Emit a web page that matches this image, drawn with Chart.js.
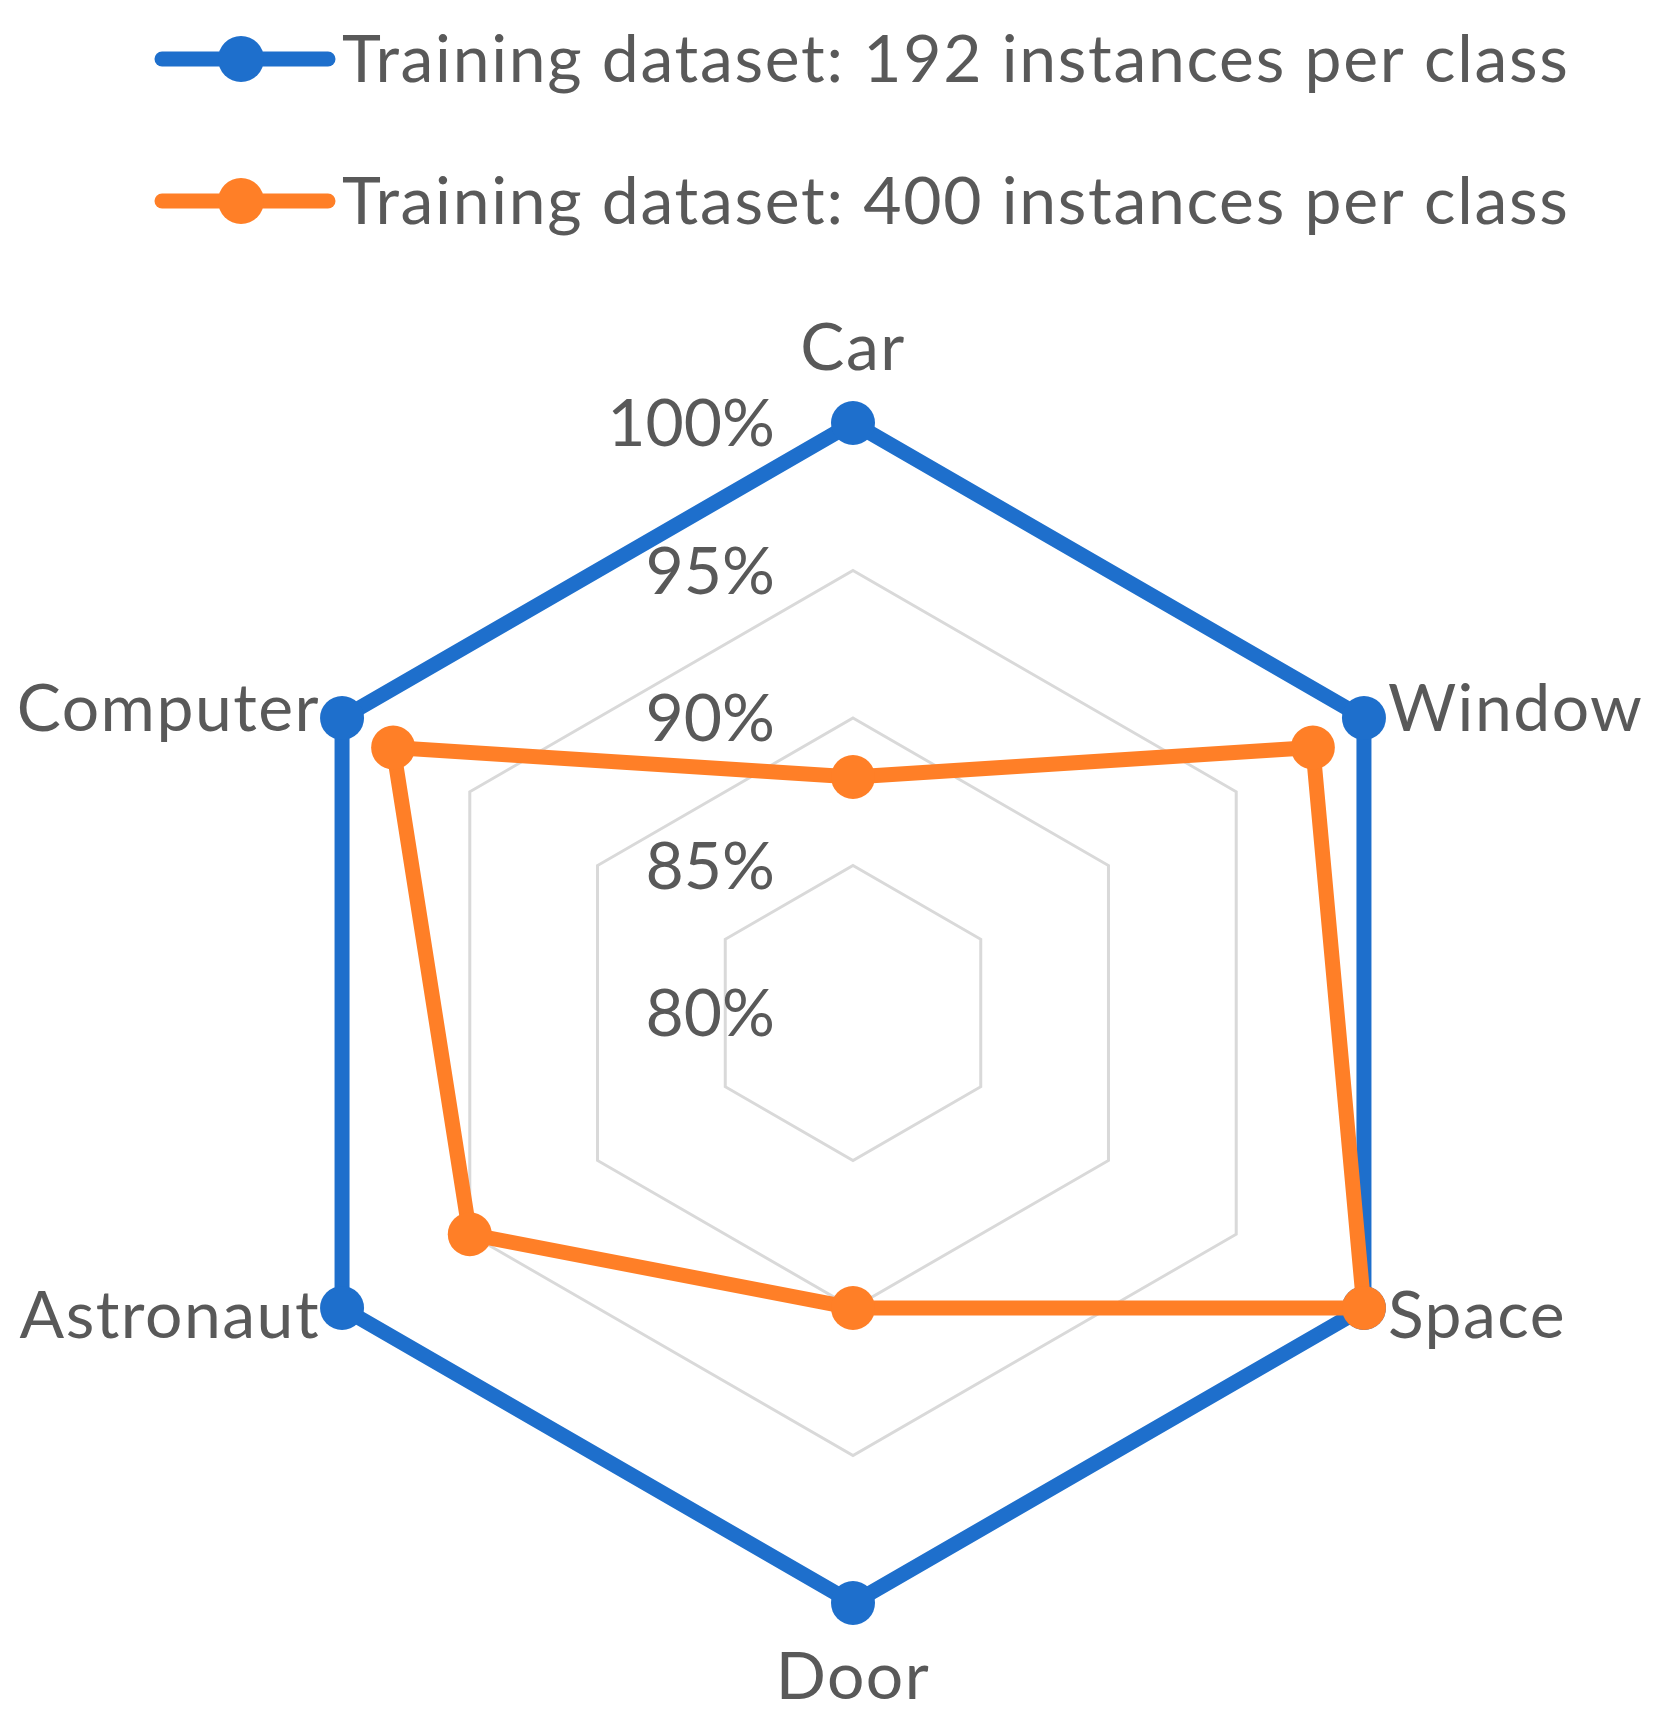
<!DOCTYPE html>
<html>
<head>
<meta charset="utf-8">
<script src="https://cdn.jsdelivr.net/npm/chart.js@4.4.0/dist/chart.umd.min.js"></script>
<style>
  html, body { margin: 0; padding: 0; background: #fff; }
  canvas { display: block; }
</style>
</head>
<body>
<canvas id="radar-chart" width="1677" height="1726"></canvas>
<script>
const categories = ['Car', 'Window', 'Space', 'Door', 'Astronaut', 'Computer'];
const seriesNames = ['Training dataset: 192 instances per class', 'Training dataset: 400 instances per class'];
const values192 = [100, 100, 100, 100, 100, 100];
const values400 = [88, 98, 100, 90, 95, 98];
const tickValues = [80, 85, 90, 95, 100];
const seriesColors = ['#1E6FCC', '#FF7F27'];

const FONT = 'Lato, "Open Sans", sans-serif';
const TEXT_COLOR = '#595959';

// labels drawn by hand so the radius stays where excel put it
const excelLabels = {
    id: 'excelLabels',
    afterDraw(chart) {
        const ctx = chart.ctx;
        const scale = chart.scales.r;
        ctx.save();
        ctx.fillStyle = TEXT_COLOR;

        // tick labels, left of the top spoke
        ctx.font = '66px ' + FONT;
        ctx.textAlign = 'right';
        ctx.textBaseline = 'middle';
        tickValues.forEach(v => {
            const p = scale.getPointPositionForValue(0, v);
            ctx.fillText(v + '%', p.x - 78, p.y + 2);
        });

        // category labels
        ctx.font = '66px ' + FONT;
        ctx.letterSpacing = '1.5px';
        ctx.textBaseline = 'alphabetic';
        categories.forEach((label, i) => {
            const p = scale.getPointPositionForValue(i, scale.max);
            const dx = p.x - scale.xCenter;
            const dy = p.y - scale.yCenter;
            if (Math.abs(dx) < 1) {
                ctx.textAlign = 'center';
                ctx.fillText(label, p.x, dy < 0 ? p.y - 53 : p.y + 96);
            } else {
                ctx.textAlign = dx > 0 ? 'left' : 'right';
                ctx.fillText(label, p.x + (dx > 0 ? 24 : -22), p.y + (dy < 0 ? 13 : 30));
            }
        });

        // legend: line with a dot, like excel
        ctx.font = '66px ' + FONT;
        ctx.letterSpacing = '1.7px';
        ctx.textAlign = 'left';
        seriesNames.forEach((name, i) => {
            const y = 59 + i * 142;
            ctx.strokeStyle = seriesColors[i];
            ctx.lineWidth = 15;
            ctx.lineCap = 'round';
            ctx.beginPath();
            ctx.moveTo(162, y);
            ctx.lineTo(328, y);
            ctx.stroke();
            ctx.fillStyle = seriesColors[i];
            ctx.beginPath();
            ctx.arc(241, y, 23, 0, Math.PI * 2);
            ctx.fill();
            ctx.fillStyle = TEXT_COLOR;
            ctx.fillText(name, 342, y + 23);
        });
        ctx.restore();
    }
};

const ctx = document.getElementById('radar-chart').getContext('2d');

new Chart(ctx, {
    type: 'radar',
    data: {
        labels: categories,
        datasets: [{
            label: seriesNames[0],
            data: values192,
            borderColor: seriesColors[0],
            backgroundColor: seriesColors[0],
            pointBackgroundColor: seriesColors[0],
            borderWidth: 15,
            pointRadius: 22,
            pointBorderWidth: 0,
            fill: false,
            order: 1
        }, {
            label: seriesNames[1],
            data: values400,
            borderColor: seriesColors[1],
            backgroundColor: seriesColors[1],
            pointBackgroundColor: seriesColors[1],
            borderWidth: 15,
            pointRadius: 22,
            pointBorderWidth: 0,
            fill: false,
            order: 0
        }]
    },
    options: {
        responsive: false,
        animation: false,
        layout: {
            padding: { left: 263, right: 234, top: 423, bottom: 123 }
        },
        scales: {
            r: {
                min: 80,
                max: 100,
                ticks: { stepSize: 5, display: false },
                pointLabels: { display: false },
                angleLines: { display: false },
                grid: { color: '#D9D9D9', lineWidth: 3 }
            }
        },
        plugins: {
            legend: { display: false },
            tooltip: { enabled: false }
        }
    },
    plugins: [excelLabels]
});
</script>
</body>
</html>
